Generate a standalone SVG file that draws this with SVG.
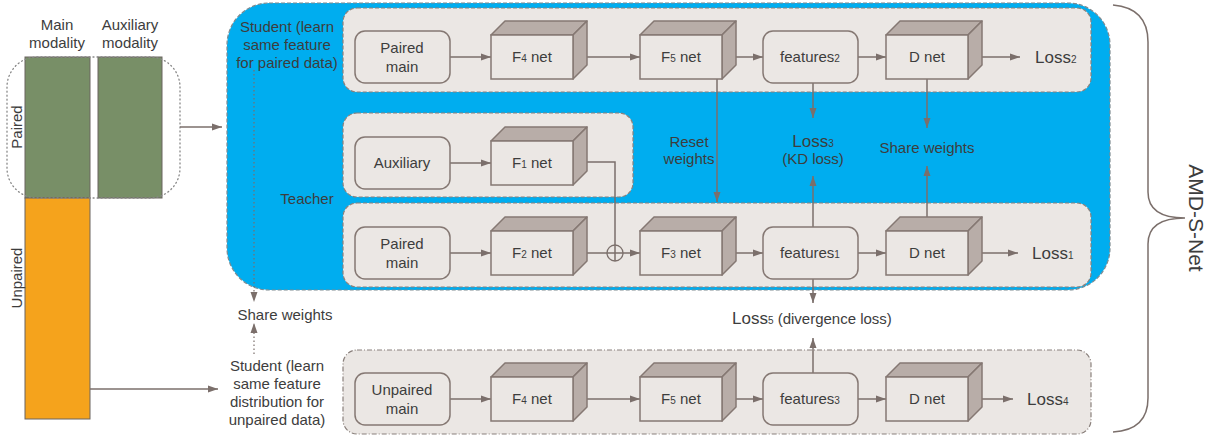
<svg xmlns="http://www.w3.org/2000/svg" width="1216" height="439" viewBox="0 0 1216 439">
<defs>
<style>
text{font-family:"Liberation Sans",Arial,sans-serif;fill:#3d3d3d;font-size:15px}
.c{text-anchor:middle}
.box{fill:#EBE7E4;stroke:#8a807c;stroke-width:1.2;stroke-dasharray:4 2}
.box2{fill:#EBE7E4;stroke:#8a807c;stroke-width:1.2;stroke-dasharray:5 2 1 2}
.node{fill:#EBE7E4;stroke:#857873;stroke-width:1.5}
.side{fill:#B8ADA8;stroke:#857873;stroke-width:1.5;stroke-linejoin:round}
.conn{stroke:#7B6F6B;stroke-width:1.5;fill:none}
.arr{marker-end:url(#ah)}
.dot{stroke:#7B6F6B;stroke-width:1.2;fill:none;stroke-dasharray:1.5 2.5}
.loss{font-size:17px}
.sub{font-size:10px}
</style>
<marker id="ah" markerUnits="userSpaceOnUse" markerWidth="10" markerHeight="8" refX="10" refY="4" orient="auto">
<path d="M0,0.5 L10,4 L0,7.5 z" fill="#7B6F6B"/>
</marker>
<g id="cube">
<path class="side" d="M0,0 L14,-14 L96,-14 L82,0 z"/>
<path class="side" d="M82,0 L96,-14 L96,30 L82,44 z"/>
<rect class="node" x="0" y="0" width="82" height="44"/>
</g>
</defs>

<g id="data">
<rect x="25" y="57" width="65" height="141" fill="#788F67" stroke="#6b6560" stroke-width="1"/>
<rect x="98" y="57" width="64" height="141" fill="#788F67" stroke="#6b6560" stroke-width="1"/>
<rect x="25" y="198" width="65" height="221" fill="#F5A31C" stroke="#6b6560" stroke-width="1"/>
<rect x="7" y="57" width="173" height="141" rx="30" fill="none" stroke="#888" stroke-width="1.3" stroke-dasharray="1 3" stroke-linecap="round"/>
<text class="c" x="57" y="30">Main</text>
<text class="c" x="57" y="48">modality</text>
<text class="c" x="130" y="30">Auxiliary</text>
<text class="c" x="130" y="48">modality</text>
<text class="c" transform="translate(22,127) rotate(-90)">Paired</text>
<text class="c" transform="translate(22,278) rotate(-90)">Unpaired</text>
</g>

<g id="amd-region">
<rect x="227" y="3" width="883" height="287" rx="42" fill="#00ADEF" stroke="#7d8a90" stroke-width="1.2" stroke-dasharray="4 2"/>
</g>

<g id="student-paired">
<rect class="box" x="343" y="8" width="748" height="84" rx="14"/>
<text class="c" x="287" y="32">Student (learn</text>
<text class="c" x="287" y="50">same feature</text>
<text class="c" x="287" y="68">for paired data)</text>
</g>
<g id="teacher-aux"><rect class="box" x="343" y="113" width="290" height="84" rx="14"/></g>
<g id="teacher-main"><rect class="box" x="343" y="203" width="748" height="84" rx="14"/>
<text class="c" x="307" y="204">Teacher</text></g>
<g id="student-unpaired">
<rect class="box2" x="343" y="350" width="748" height="84" rx="14"/>
<text class="c" x="277" y="371">Student (learn</text>
<text class="c" x="277" y="389">same feature</text>
<text class="c" x="277" y="407">distribution for</text>
<text class="c" x="277" y="425">unpaired data)</text>
</g>

<g id="connectors">
<line class="conn" x1="180" y1="127" x2="222" y2="127" style="marker-end:url(#ah)"/>
<line class="conn" x1="90" y1="389" x2="218" y2="389" style="marker-end:url(#ah)"/>
<line class="dot" x1="254" y1="70" x2="254" y2="302" style="marker-end:url(#ah)"/>
<line class="dot" x1="254" y1="354" x2="254" y2="323" style="marker-end:url(#ah)"/>
<!-- row 1 -->
<line class="conn arr" x1="450" y1="57" x2="491" y2="57"/>
<line class="conn arr" x1="573" y1="57" x2="640" y2="57"/>
<line class="conn arr" x1="722" y1="57" x2="763" y2="57"/>
<line class="conn arr" x1="858" y1="57" x2="886" y2="57"/>
<line class="conn arr" x1="968" y1="57" x2="1020" y2="57"/>
<!-- verticals -->
<line class="conn arr" x1="717" y1="79" x2="717" y2="202"/>
<line class="conn arr" x1="813" y1="83" x2="813" y2="118"/>
<line class="conn arr" x1="927" y1="79" x2="927" y2="128"/>
<line class="conn arr" x1="813" y1="227" x2="813" y2="176"/>
<line class="conn arr" x1="927" y1="231" x2="927" y2="166"/>
<!-- row 2 -->
<line class="conn arr" x1="450" y1="163" x2="491" y2="163"/>
<polyline class="conn" points="573,162 615,162 615,245"/>
<!-- row 3 -->
<line class="conn arr" x1="450" y1="253" x2="491" y2="253"/>
<line class="conn" x1="573" y1="253" x2="607" y2="253"/>
<circle cx="615" cy="253" r="8" fill="none" stroke="#7B6F6B" stroke-width="1.3"/>
<line class="conn" x1="607" y1="253" x2="623" y2="253"/>
<line class="conn" x1="615" y1="245" x2="615" y2="261"/>
<line class="conn arr" x1="623" y1="253" x2="640" y2="253"/>
<line class="conn arr" x1="722" y1="253" x2="763" y2="253"/>
<line class="conn arr" x1="858" y1="253" x2="886" y2="253"/>
<line class="conn arr" x1="968" y1="253" x2="1018" y2="253"/>
<line class="conn arr" x1="813" y1="279" x2="813" y2="303"/>
<line class="conn arr" x1="813" y1="373" x2="813" y2="338"/>
<!-- row 4 -->
<line class="conn arr" x1="450" y1="399" x2="491" y2="399"/>
<line class="conn arr" x1="573" y1="399" x2="640" y2="399"/>
<line class="conn arr" x1="722" y1="399" x2="763" y2="399"/>
<line class="conn arr" x1="858" y1="399" x2="886" y2="399"/>
<line class="conn arr" x1="968" y1="399" x2="1013" y2="399"/>
</g>

<g id="labels">
<text class="c" x="689" y="147">Reset</text>
<text class="c" x="689" y="164">weights</text>
<text class="c loss" x="813" y="147">Loss<tspan class="sub">3</tspan></text>
<text class="c" x="813" y="164">(KD loss)</text>
<text class="c" x="927" y="153">Share weights</text>
<text class="c" x="285" y="320">Share weights</text>
<text x="732" y="324"><tspan class="loss">Loss</tspan><tspan class="sub">5</tspan> (divergence loss)</text>
<text class="loss" x="1035" y="63">Loss<tspan class="sub">2</tspan></text>
<text class="loss" x="1032" y="259">Loss<tspan class="sub">1</tspan></text>
<text class="loss" x="1027" y="405">Loss<tspan class="sub">4</tspan></text>
</g>

<g id="n-paired-main-1"><rect class="node" x="355" y="31" width="95" height="52" rx="10"/><text class="c" x="402" y="53">Paired</text><text class="c" x="402" y="72">main</text></g>
<g id="n-f4-1"><use href="#cube" x="491" y="35"/><text class="c" x="532" y="62">F<tspan class="sub">4</tspan> net</text></g>
<g id="n-f5-1"><use href="#cube" x="640" y="35"/><text class="c" x="681" y="62">F<tspan class="sub">5</tspan> net</text></g>
<g id="n-features2"><rect class="node" x="763" y="31" width="95" height="52" rx="10"/><text class="c" x="810" y="62">features<tspan class="sub">2</tspan></text></g>
<g id="n-d-1"><use href="#cube" x="886" y="35"/><text class="c" x="927" y="62">D net</text></g>

<g id="n-auxiliary"><rect class="node" x="355" y="137" width="95" height="52" rx="10"/><text class="c" x="402" y="168">Auxiliary</text></g>
<g id="n-f1"><use href="#cube" x="491" y="141"/><text class="c" x="532" y="168">F<tspan class="sub">1</tspan> net</text></g>

<g id="n-paired-main-2"><rect class="node" x="355" y="227" width="95" height="52" rx="10"/><text class="c" x="402" y="249">Paired</text><text class="c" x="402" y="268">main</text></g>
<g id="n-f2"><use href="#cube" x="491" y="231"/><text class="c" x="532" y="258">F<tspan class="sub">2</tspan> net</text></g>
<g id="n-f3"><use href="#cube" x="640" y="231"/><text class="c" x="681" y="258">F<tspan class="sub">3</tspan> net</text></g>
<g id="n-features1"><rect class="node" x="763" y="227" width="95" height="52" rx="10"/><text class="c" x="810" y="258">features<tspan class="sub">1</tspan></text></g>
<g id="n-d-2"><use href="#cube" x="886" y="231"/><text class="c" x="927" y="258">D net</text></g>

<g id="n-unpaired-main"><rect class="node" x="355" y="373" width="95" height="52" rx="10"/><text class="c" x="402" y="395">Unpaired</text><text class="c" x="402" y="414">main</text></g>
<g id="n-f4-2"><use href="#cube" x="491" y="377"/><text class="c" x="532" y="404">F<tspan class="sub">4</tspan> net</text></g>
<g id="n-f5-2"><use href="#cube" x="640" y="377"/><text class="c" x="681" y="404">F<tspan class="sub">5</tspan> net</text></g>
<g id="n-features3"><rect class="node" x="763" y="373" width="95" height="52" rx="10"/><text class="c" x="810" y="404">features<tspan class="sub">3</tspan></text></g>
<g id="n-d-3"><use href="#cube" x="886" y="377"/><text class="c" x="927" y="404">D net</text></g>

<g id="brace">
<path d="M1113,5 Q1148,8 1148,42 L1148,192 Q1148,218 1185,218 Q1148,218 1148,244 L1148,398 Q1148,430 1113,432" fill="none" stroke="#7B6F6B" stroke-width="1.5"/>
<text class="c" style="font-size:21px" transform="translate(1189,218) rotate(90)">AMD-S-Net</text>
</g>
</svg>
